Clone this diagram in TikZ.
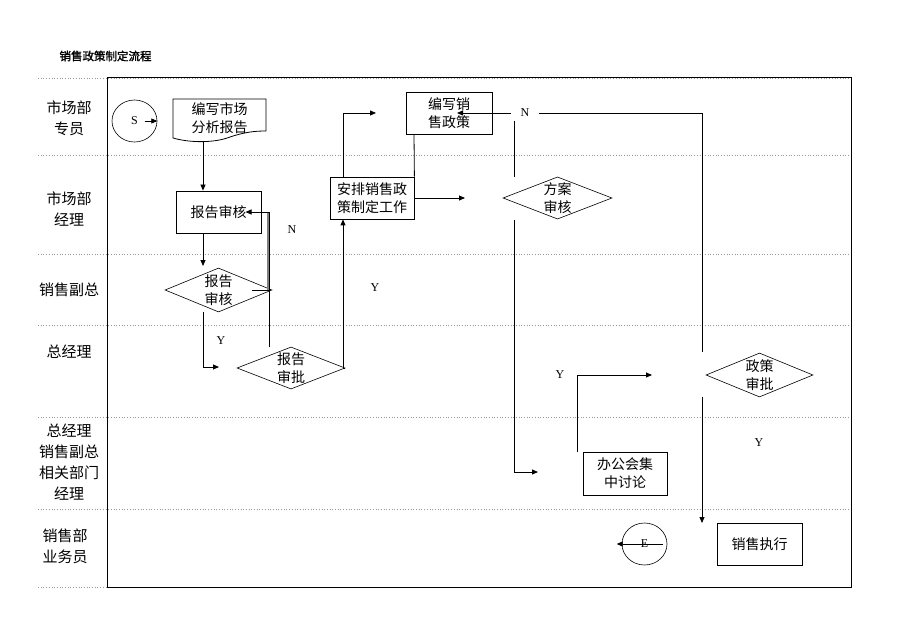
\documentclass[tikz,border=0pt]{standalone}
\usepackage{fontspec}
\setmainfont{Liberation Serif}
\newfontfamily\cjk{Noto Sans CJK SC}
\newfontfamily\cjkb[FakeBold=1.5]{Noto Sans CJK SC}
\usetikzlibrary{shapes.geometric,arrows.meta}
\tikzset{
  ln/.style={line width=0.8pt,black},
  arr/.style={ln,-{Triangle[length=6pt,width=5pt]}},
  stepbox/.style={draw,line width=0.8pt,inner sep=0pt,align=center,font=\cjk\fontsize{14}{18}\selectfont},
  decide/.style={draw,diamond,line width=0.6pt,inner sep=0pt,aspect=2.5,align=center,font=\cjk\fontsize{14}{18}\selectfont},
  term/.style={draw,ellipse,line width=0.6pt,inner sep=0pt,font=\fontsize{12}{14}\selectfont},
  lane/.style={align=center,font=\cjk\fontsize{15}{21}\selectfont},
  yn/.style={font=\fontsize{12}{14}\selectfont},
  sep/.style={gray!80,dotted,line width=0.7pt}
}
\begin{document}
\begin{tikzpicture}[x=1pt,y=-1pt]
\useasboundingbox (0,0) rectangle (920,636);
\fill[white] (0,0) rectangle (920,636);
% title
\node[font=\cjkb\fontsize{11.5}{13}\selectfont,anchor=west] (title) at (56,56) {销售政策制定流程};
% lane separators
\foreach \yy in {78,155,254,325,417,509,587} \draw[sep] (38,\yy) -- (851,\yy);
% frame
\draw[line width=1pt] (107,78) rectangle (851,587);
% lane labels
\node[lane] (l1) at (69,118) {市场部\\专员};
\node[lane] (l2) at (69,209) {市场部\\经理};
\node[lane] (l3) at (69,290) {销售副总};
\node[lane] (l4) at (69,352) {总经理};
\node[lane] (l5) at (69,462) {总经理\\销售副总\\相关部门\\经理};
\node[lane] (l6) at (65,546) {销售部\\业务员};
% nodes
\node[term,minimum width=45pt,minimum height=42pt] (S) at (134.5,121) {S};
\node[inner sep=0pt,minimum width=93pt,minimum height=44pt,align=center,font=\cjk\fontsize{14}{18}\selectfont] (doc) at (219.5,118) {编写市场\\分析报告};
\draw[line width=0.8pt] (173,99) -- (266,99) -- (266,131)
  .. controls (255,131) and (245,132) .. (230,137)
  .. controls (215,143) and (190,143) .. (173,138) -- cycle;
\node[stepbox,minimum width=85pt,minimum height=42pt] (rev1) at (218.5,212) {报告审核};
\node[decide,minimum width=107pt,minimum height=44pt] (dia1) at (218.5,290) {报告\\审核};
\node[decide,minimum width=108pt,minimum height=42pt] (dia2) at (291,368) {报告\\审批};
\node[stepbox,minimum width=84pt,minimum height=42pt] (arrange) at (372,198) {安排销售政\\策制定工作};
\node[stepbox,minimum width=86pt,minimum height=42pt] (write2) at (449,113) {编写销\\售政策};
\node[decide,minimum width=109pt,minimum height=42pt] (dia3) at (557.5,198) {方案\\审核};
\node[decide,minimum width=107pt,minimum height=44pt] (dia4) at (759.5,375) {政策\\审批};
\node[stepbox,minimum width=84pt,minimum height=43pt] (meet) at (625,473.5) {办公会集\\中讨论};
\node[term,minimum width=45pt,minimum height=42pt] (E) at (644.5,544) {E};
\node[stepbox,minimum width=85pt,minimum height=42pt] (exec) at (759.5,544) {销售执行};
% labels
\node[yn] (n1) at (292,230) {N};
\node[yn] (y1) at (221,341) {Y};
\node[yn] (y2) at (375,288) {Y};
\node[yn] (n2) at (525,113) {N};
\node[yn] (y3) at (560,375) {Y};
\node[yn] (y4) at (759,443) {Y};
% coordinates
\coordinate (d1in) at (203,266);
\coordinate (d2in) at (219,367);
\coordinate (rv) at (269.5,347);
\coordinate (a3) at (465,198);
\coordinate (a4) at (376,113);
\coordinate (a5) at (538,472);
\coordinate (a6) at (652,375);
\coordinate (a7) at (702,523);
% connectors
\draw[arr] ([xshift=10pt]S.center) -- (S.east);
\draw[arr] (203,141) -- ([xshift=-15.5pt]rev1.north);
\draw[arr] ([xshift=-15.5pt]rev1.south) -- (d1in);
\draw[arr] (203,312) |- (d2in);
\draw[gray,line width=1.6pt] (268,212) -- (268,290);
\draw[ln] (252,290) -- (270,290);
\draw[arr] (rv) |- ([xshift=27pt]rev1.center);
\draw[arr] (dia2.east) -| (343,368) -- ([xshift=-29pt]arrange.south);
\draw[arr] ([xshift=-29pt]arrange.north) |- (a4);
\draw[ln] ([xshift=-35pt]write2.south) -- (arrange.north east);
\draw[arr] (arrange.east) -- (a3);
\draw[arr] (n2.west) ++(-6,0) -- ([xshift=8pt]write2.center);
\draw[ln] ([xshift=6pt]n2.east) -| (702,352);
\draw[ln] (514,121) -- (514,177);
\draw[arr] (514,220) |- (a5);
\draw[arr] ([xshift=-48pt]meet.north) |- (a6);
\draw[arr] (702,397) -- (a7);
\draw[arr] ([xshift=18pt]E.center) -- ([xshift=-5pt]E.west);
\end{tikzpicture}
\end{document}
